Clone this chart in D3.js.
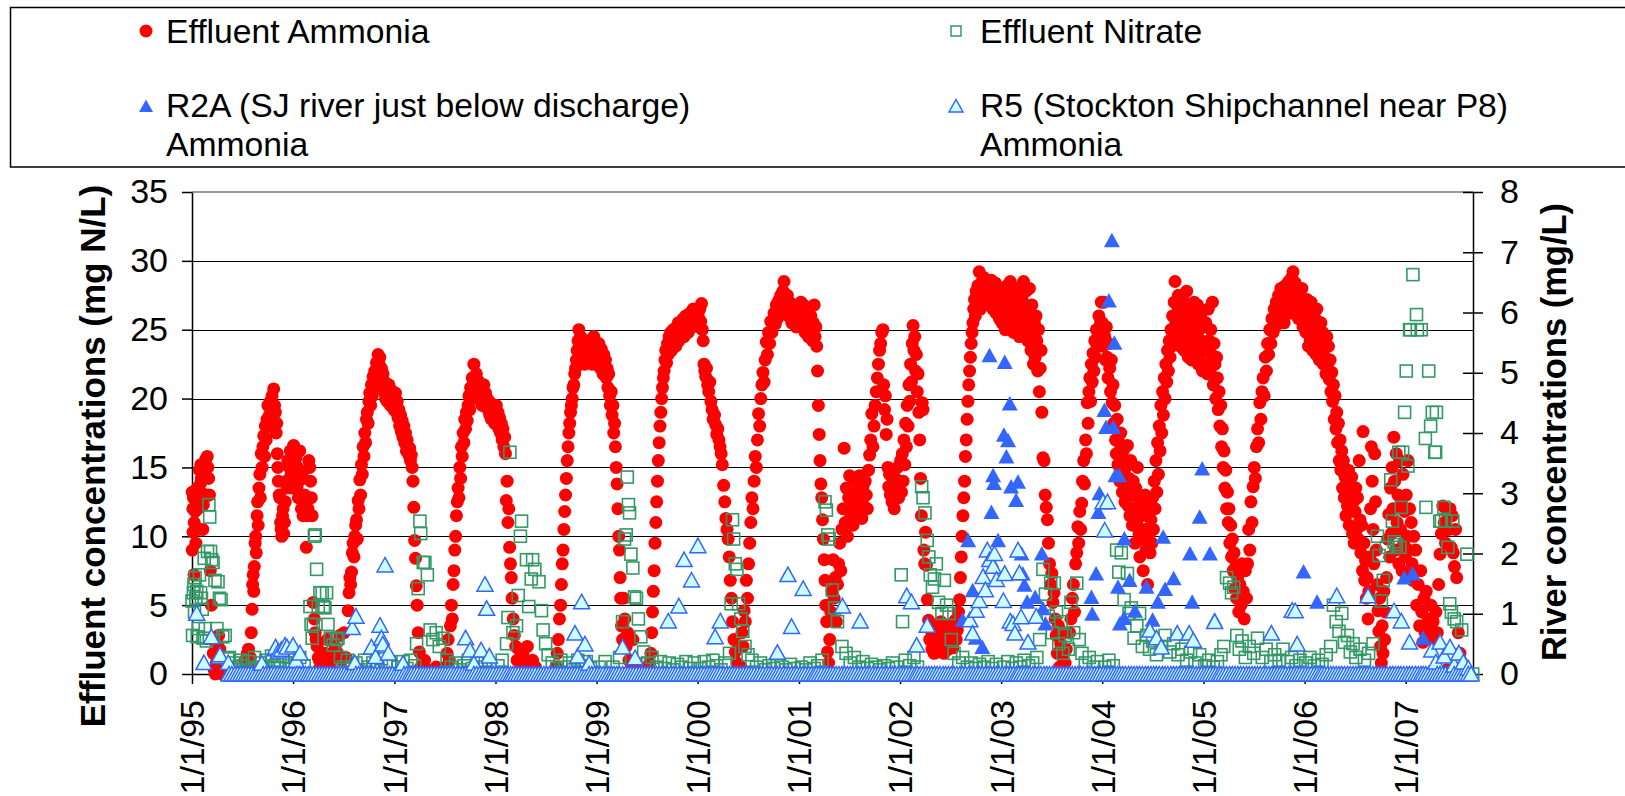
<!DOCTYPE html>
<html>
<head>
<meta charset="utf-8">
<script src="https://cdn.jsdelivr.net/npm/d3@7"></script>
<style>
  body { margin: 0; background: #fff; }
  text { font-family: Arial, "Liberation Sans", sans-serif; }
</style>
</head>
<body>
<svg id="chart" width="1625" height="796"></svg>
<script>
// Readings, one row per year: "year: MMDD value, MMDD value, ..."
const effluentAmmonia = [
  "1995: 0102 9.0, 0102 13.2, 0104 12.0, 0105 10.3, 0106 12.8, 0108 7.2, 0109 11.0, 0111 13.0, 0113 11.8, 0115 9.5, 0117 12.5, 0120 13.5, 0122 12.0, 0124 10.5, 0126 13.2, 0128 14.8, 0131 13.8, 0202 15.2, 0204 14.2, 0207 13.1, 0209 10.5, 0211 12.3, 0214 15.0, 0217 14.5, 0220 15.6, 0222 13.0, 0225 15.8, 0227 15.0, 0302 14.2, 0305 13.0, 0308 7.5, 0312 5.0, 0316 2.5, 0319 1.5, 0322 0.3, 0326 0.0, 0330 0.8, 0403 2.2, 0407 2.8, 0411 1.8, 0415 1.0, 0419 0.0, 0424 0.3, 0430 0.0, 0506 0.5, 0712 1.0, 0716 0.5, 0720 1.5, 0724 1.8, 0728 0.6, 0731 1.2, 0803 3.0, 0806 4.7, 0808 6.5, 0810 7.2, 0812 6.0, 0814 7.8, 0817 9.5, 0819 10.0, 0821 8.8, 0824 11.5, 0826 12.5, 0828 10.8, 0831 13.5, 0903 14.5, 0905 12.8, 0908 16.0, 0911 15.0, 0914 16.5, 0917 17.3, 0920 15.8, 0923 18.0, 0926 17.0, 0929 18.5, 1002 19.5, 1005 18.0, 1008 18.8, 1011 19.8, 1014 19.0, 1017 20.2, 1020 18.5, 1023 20.7, 1026 19.5, 1029 19.0, 1101 17.5, 1103 18.2, 1105 16.0, 1107 15.0, 1109 14.0, 1112 13.0, 1114 12.8, 1117 11.0, 1119 10.5, 1121 10.0, 1124 11.5, 1126 12.0, 1128 10.2, 1201 11.0, 1204 12.5, 1207 14.0, 1210 13.5, 1213 15.5, 1216 14.0, 1219 15.0, 1222 16.2, 1225 14.5, 1228 15.8, 1231 13.5",
  "1996: 0103 16.6, 0105 15.0, 0107 16.0, 0110 14.2, 0112 15.7, 0115 13.5, 0117 15.0, 0120 12.8, 0122 14.0, 0125 16.2, 0128 13.0, 0131 12.0, 0203 14.5, 0206 11.5, 0209 12.8, 0212 13.0, 0215 11.8, 0218 9.2, 0221 11.5, 0224 12.0, 0227 15.5, 0301 15.0, 0304 14.0, 0307 12.8, 0310 11.5, 0314 5.2, 0318 4.0, 0321 3.0, 0324 2.5, 0328 2.0, 0401 1.2, 0405 1.0, 0409 0.5, 0414 0.2, 0420 0.0, 0427 1.5, 0504 2.5, 0511 0.5, 0520 1.0, 0601 2.0, 0610 1.5, 0618 2.8, 0625 1.0, 0703 3.0, 0710 1.2, 0718 4.6, 0721 5.9, 0724 7.0, 0727 6.5, 0730 7.4, 0802 8.8, 0805 9.5, 0808 8.5, 0811 10.0, 0814 10.8, 0817 11.2, 0820 9.8, 0823 12.6, 0826 12.0, 0829 14.1, 0901 13.0, 0904 15.2, 0907 14.5, 0910 16.5, 0913 15.8, 0916 17.5, 0919 16.8, 0922 18.5, 0925 19.0, 0928 18.2, 1001 19.8, 1004 20.4, 1007 19.5, 1010 21.0, 1013 20.2, 1016 21.6, 1019 20.8, 1022 22.0, 1025 21.2, 1028 22.6, 1031 21.8, 1103 23.2, 1106 22.5, 1109 23.0, 1112 21.5, 1115 22.2, 1118 21.0, 1121 21.8, 1124 20.5, 1127 21.2, 1130 20.0, 1203 20.8, 1206 19.8, 1209 20.5, 1212 21.0, 1215 20.2, 1218 19.5, 1221 20.6, 1224 19.8, 1227 20.4, 1230 19.2",
  "1997: 0102 19.5, 0105 20.4, 0108 19.0, 0111 19.8, 0114 18.6, 0117 19.2, 0120 18.0, 0123 18.8, 0126 17.6, 0129 18.4, 0201 17.2, 0204 18.0, 0207 16.8, 0210 17.5, 0213 16.2, 0216 17.0, 0219 16.5, 0222 15.9, 0225 16.4, 0228 15.5, 0303 15.9, 0306 15.0, 0309 14.0, 0312 12.1, 0315 9.7, 0318 8.4, 0321 6.4, 0324 5.0, 0328 3.0, 0401 1.6, 0406 0.5, 0412 0.0, 0420 1.0, 0428 0.3, 0510 0.0, 0601 0.5, 0705 0.5, 0710 1.5, 0714 2.5, 0718 1.0, 0722 3.5, 0726 5.0, 0729 4.0, 0801 6.5, 0804 7.5, 0807 9.0, 0810 10.0, 0813 11.5, 0816 12.5, 0819 13.5, 0822 12.8, 0825 15.0, 0828 14.2, 0831 16.5, 0903 15.8, 0906 17.5, 0909 16.8, 0912 18.5, 0915 17.8, 0918 19.0, 0921 18.4, 0924 19.5, 0927 20.2, 0930 19.2, 1003 20.8, 1006 20.0, 1009 21.5, 1012 20.6, 1015 22.5, 1018 21.2, 1021 20.8, 1024 21.8, 1027 20.5, 1030 21.3, 1102 20.2, 1105 21.0, 1108 19.8, 1111 20.6, 1114 19.5, 1117 20.2, 1120 21.0, 1123 19.8, 1126 20.4, 1129 19.5, 1202 20.0, 1205 19.2, 1208 19.8, 1211 18.8, 1214 19.5, 1217 18.5, 1220 19.6, 1223 18.8, 1226 19.4, 1229 18.2",
  "1998: 0101 18.8, 0104 19.5, 0107 18.2, 0110 19.0, 0113 17.8, 0116 18.6, 0119 17.5, 0122 18.2, 0125 17.0, 0128 17.8, 0131 16.5, 0203 17.2, 0206 16.0, 0209 12.6, 0212 14.0, 0215 11.0, 0218 12.0, 0221 9.2, 0224 8.0, 0227 7.0, 0302 5.5, 0306 4.0, 0310 2.8, 0315 2.0, 0320 1.0, 0326 1.8, 0402 0.5, 0410 1.5, 0418 0.8, 0426 2.0, 0505 0.3, 0515 1.0, 0525 0.5, 0808 0.5, 0812 1.5, 0816 2.5, 0820 4.0, 0824 5.0, 0827 6.5, 0830 8.0, 0902 9.0, 0905 10.5, 0908 11.8, 0911 13.0, 0914 14.2, 0917 15.5, 0920 16.5, 0923 17.5, 0926 18.2, 0929 19.0, 1002 19.5, 1005 20.0, 1008 20.8, 1011 21.0, 1014 21.8, 1017 22.2, 1020 22.8, 1023 23.5, 1026 24.2, 1029 25.0, 1101 23.8, 1104 24.5, 1107 23.2, 1110 24.0, 1113 22.8, 1116 23.6, 1119 22.5, 1122 23.8, 1125 23.0, 1128 24.2, 1201 22.6, 1204 23.5, 1207 22.8, 1210 24.0, 1213 23.2, 1216 22.5, 1219 23.8, 1222 24.5, 1225 23.0, 1228 23.8, 1231 22.8",
  "1999: 0103 23.5, 0106 22.5, 0109 24.0, 0112 23.0, 0115 22.2, 0118 23.6, 0121 22.8, 0124 21.8, 0127 23.2, 0130 22.0, 0202 22.8, 0205 21.5, 0208 22.2, 0211 20.8, 0214 21.8, 0217 20.2, 0220 19.5, 0223 20.5, 0226 18.8, 0301 19.5, 0304 17.5, 0307 18.2, 0310 16.5, 0313 15.0, 0316 13.8, 0319 12.0, 0322 10.0, 0325 9.0, 0327 7.0, 0329 5.5, 0401 3.5, 0405 2.5, 0409 5.5, 0413 4.0, 0418 2.0, 0423 3.0, 0428 1.0, 0505 0.8, 0512 2.5, 0520 0.3, 0601 0.5, 0712 0.8, 0716 1.5, 0719 3.0, 0722 4.5, 0725 6.0, 0728 7.5, 0731 9.5, 0803 11.0, 0806 12.5, 0809 14.0, 0812 15.5, 0815 16.8, 0818 18.0, 0821 19.0, 0824 20.0, 0827 20.8, 0830 21.5, 0902 22.0, 0905 22.8, 0908 23.5, 0911 22.6, 0914 24.0, 0917 23.2, 0920 24.5, 0923 23.8, 0926 24.8, 0929 23.5, 1002 24.2, 1005 25.0, 1008 24.0, 1011 24.8, 1014 23.8, 1017 25.2, 1020 24.5, 1023 25.5, 1026 24.2, 1029 25.0, 1101 24.6, 1104 25.5, 1107 24.8, 1110 25.8, 1113 24.5, 1116 25.3, 1119 26.0, 1122 25.0, 1125 25.6, 1128 24.8, 1201 25.8, 1204 26.2, 1207 25.4, 1210 26.0, 1213 25.2, 1216 26.5, 1219 25.6, 1222 26.2, 1225 25.5, 1228 26.4, 1231 25.8",
  "2000: 0103 26.0, 0106 25.2, 0109 26.5, 0112 25.6, 0115 26.9, 0118 25.0, 0121 24.2, 0124 22.5, 0127 22.0, 0130 21.6, 0202 22.2, 0206 21.0, 0210 20.5, 0214 21.2, 0218 19.8, 0222 19.2, 0226 18.5, 0302 18.8, 0306 18.1, 0310 17.4, 0314 17.8, 0318 17.0, 0322 16.5, 0326 16.0, 0330 15.2, 0404 13.7, 0408 12.5, 0412 11.3, 0416 10.5, 0420 9.8, 0424 8.5, 0428 6.8, 0502 5.5, 0506 3.8, 0511 2.5, 0516 1.6, 0522 0.8, 0528 0.3, 0605 0.5, 0609 3.0, 0613 2.0, 0617 4.6, 0621 3.8, 0625 6.8, 0629 5.5, 0703 8.0, 0707 9.5, 0711 11.0, 0715 12.8, 0719 12.0, 0723 14.0, 0727 15.8, 0731 15.0, 0804 17.0, 0808 18.9, 0812 18.0, 0816 20.0, 0820 21.0, 0824 21.9, 0828 21.2, 0901 22.8, 0905 24.1, 0909 23.2, 0913 24.8, 0917 24.0, 0921 25.6, 0925 24.8, 0929 25.5, 1003 26.2, 1007 25.4, 1011 26.8, 1015 25.8, 1019 27.1, 1023 26.2, 1027 27.5, 1031 26.5, 1104 27.8, 1108 28.5, 1112 27.2, 1116 26.5, 1120 27.5, 1124 26.0, 1128 27.0, 1202 26.2, 1206 25.5, 1210 26.8, 1214 25.8, 1218 26.5, 1222 25.2, 1226 26.0, 1230 25.5",
  "2001: 0102 26.5, 0105 25.5, 0108 27.0, 0111 26.0, 0114 25.2, 0117 26.8, 0120 25.8, 0123 24.8, 0126 26.2, 0129 25.0, 0201 26.5, 0204 24.5, 0207 25.8, 0210 24.8, 0213 26.0, 0216 25.2, 0219 24.2, 0222 25.5, 0225 26.8, 0228 24.5, 0303 25.2, 0306 23.8, 0309 22.0, 0312 19.5, 0315 17.4, 0318 15.5, 0321 13.8, 0324 12.8, 0327 11.2, 0330 9.8, 0402 8.3, 0405 6.8, 0408 5.0, 0411 3.8, 0414 1.6, 0418 0.8, 0422 2.5, 0426 4.5, 0430 6.0, 0504 8.3, 0508 5.5, 0512 7.0, 0516 3.8, 0520 6.5, 0524 8.0, 0528 9.5, 0601 7.5, 0605 10.5, 0609 12.0, 0613 16.4, 0617 11.0, 0621 13.5, 0625 10.0, 0629 12.8, 0703 14.4, 0707 11.5, 0711 13.0, 0715 10.8, 0719 12.2, 0723 14.0, 0727 11.8, 0731 13.2, 0804 12.0, 0808 14.4, 0812 12.5, 0816 11.3, 0820 13.6, 0824 12.2, 0828 14.0, 0901 13.0, 0905 12.0, 0909 14.8, 0913 15.9, 0917 17.0, 0921 18.9, 0925 16.5, 0929 18.0, 1003 19.5, 1007 20.5, 1011 21.5, 1015 22.5, 1019 23.5, 1023 24.0, 1027 24.8, 1031 25.0, 1103 21.0, 1106 19.2, 1109 20.2, 1112 17.4, 1115 18.5, 1118 15.0, 1121 13.6, 1124 14.5, 1127 13.0, 1130 14.4, 1203 12.5, 1207 13.8, 1211 12.0, 1215 14.2, 1219 13.2, 1223 15.0, 1227 12.8, 1231 14.0",
  "2002: 0103 15.5, 0106 13.2, 0109 16.0, 0112 14.0, 0115 17.0, 0118 15.2, 0121 18.2, 0124 16.5, 0127 19.5, 0130 18.0, 0202 21.0, 0205 19.8, 0208 22.5, 0211 21.2, 0214 24.0, 0217 25.3, 0220 23.5, 0223 24.5, 0226 22.0, 0301 23.2, 0304 20.5, 0307 21.8, 0310 19.0, 0313 17.0, 0316 14.2, 0319 11.5, 0322 19.7, 0325 19.2, 0328 9.0, 0331 8.0, 0403 10.3, 0406 7.9, 0410 5.4, 0414 3.9, 0418 2.5, 0422 3.2, 0426 1.8, 0430 2.8, 0504 1.5, 0508 3.5, 0512 2.2, 0516 3.0, 0520 1.6, 0524 2.6, 0528 3.8, 0601 2.0, 0605 3.2, 0609 1.5, 0613 2.8, 0617 3.5, 0621 2.2, 0625 1.8, 0629 3.0, 0703 2.4, 0707 3.6, 0711 1.9, 0715 2.8, 0719 3.9, 0723 2.5, 0727 3.2, 0731 4.5, 0804 5.4, 0807 7.0, 0810 8.5, 0813 10.0, 0816 11.5, 0819 12.8, 0822 14.0, 0825 15.8, 0828 17.0, 0831 18.5, 0903 19.8, 0906 21.0, 0909 22.0, 0912 23.0, 0915 24.0, 0918 24.8, 0921 25.5, 0924 26.5, 0927 27.2, 0930 26.0, 1003 27.8, 1006 26.8, 1009 28.2, 1012 27.0, 1014 29.2, 1018 26.5, 1021 27.5, 1024 28.5, 1027 27.0, 1030 28.8, 1102 27.5, 1105 28.6, 1108 28.0, 1111 27.2, 1114 28.5, 1117 26.8, 1120 28.0, 1123 27.0, 1126 28.6, 1129 27.4, 1202 26.5, 1205 28.2, 1208 27.0, 1211 28.4, 1214 26.2, 1217 27.6, 1220 26.8, 1223 28.0, 1226 25.8, 1229 27.2",
  "2003: 0101 27.0, 0104 25.5, 0107 28.0, 0110 26.2, 0113 27.5, 0116 25.0, 0119 26.8, 0122 28.2, 0125 25.8, 0128 27.2, 0131 26.0, 0203 28.5, 0206 25.5, 0209 27.0, 0212 26.2, 0215 24.8, 0218 27.8, 0221 26.5, 0224 25.2, 0227 27.5, 0302 26.0, 0305 28.0, 0308 24.5, 0311 26.8, 0314 25.5, 0317 27.2, 0320 26.0, 0323 28.5, 0326 25.0, 0329 26.5, 0401 27.8, 0404 25.8, 0407 24.2, 0410 26.5, 0413 28.0, 0416 25.2, 0419 23.5, 0422 26.8, 0425 24.8, 0428 22.5, 0501 25.5, 0504 23.0, 0507 26.0, 0510 24.2, 0513 22.0, 0516 25.0, 0519 20.5, 0522 22.2, 0525 23.5, 0528 19.0, 0601 15.7, 0605 15.5, 0609 13.0, 0613 12.1, 0617 11.2, 0621 9.5, 0625 8.0, 0629 6.5, 0703 7.3, 0707 5.2, 0711 5.9, 0715 4.0, 0719 2.8, 0723 1.5, 0727 3.5, 0731 0.5, 0804 2.2, 0808 0.0, 0812 1.2, 0816 3.0, 0820 0.8, 0824 1.8, 0905 3.0, 0910 4.0, 0915 5.5, 0919 6.5, 0923 4.5, 0927 8.0, 1001 8.8, 1005 10.7, 1008 9.5, 1012 11.8, 1015 10.5, 1019 12.4, 1022 14.0, 1026 15.5, 1029 13.8, 1102 17.0, 1105 16.0, 1108 19.7, 1111 18.2, 1114 20.5, 1117 21.5, 1120 19.8, 1123 22.5, 1126 21.2, 1129 23.3, 1202 22.0, 1205 24.2, 1208 23.0, 1211 25.0, 1214 23.8, 1217 24.5, 1220 26.0, 1223 24.8, 1226 25.5, 1229 27.0",
  "2004: 0101 25.5, 0104 23.8, 0107 27.0, 0110 24.5, 0113 22.8, 0116 25.2, 0119 23.0, 0122 21.5, 0125 24.0, 0128 22.2, 0131 20.5, 0203 22.8, 0206 19.7, 0209 21.0, 0212 18.2, 0215 19.5, 0218 17.0, 0221 16.0, 0224 18.5, 0227 15.2, 0302 16.8, 0305 14.0, 0308 17.5, 0311 15.5, 0314 13.2, 0317 16.2, 0320 14.5, 0323 12.5, 0326 15.0, 0329 13.8, 0401 16.6, 0404 12.2, 0407 14.2, 0410 11.5, 0413 15.5, 0416 13.0, 0419 10.8, 0422 14.0, 0425 12.0, 0428 9.5, 0501 13.5, 0504 11.0, 0507 15.0, 0510 12.8, 0513 10.2, 0516 8.5, 0519 12.0, 0522 9.8, 0525 11.5, 0528 7.5, 0601 10.5, 0604 13.0, 0607 9.0, 0610 11.8, 0613 6.5, 0616 10.0, 0619 12.5, 0622 8.8, 0625 11.2, 0628 9.5, 0701 12.8, 0704 10.5, 0707 14.0, 0710 12.0, 0713 15.5, 0716 13.2, 0719 16.8, 0722 14.5, 0725 18.0, 0728 16.2, 0731 19.5, 0803 17.5, 0806 20.5, 0809 18.8, 0812 21.5, 0815 20.0, 0818 22.5, 0821 21.2, 0824 23.5, 0827 22.0, 0830 24.2, 0902 23.0, 0905 25.0, 0908 23.8, 0911 26.0, 0914 24.5, 0917 27.0, 0920 28.5, 0923 25.5, 0926 26.8, 0929 24.2, 1002 27.5, 1005 25.0, 1008 23.8, 1011 26.5, 1014 24.8, 1017 27.2, 1020 25.5, 1023 23.5, 1026 26.0, 1029 24.5, 1101 27.8, 1104 25.2, 1107 23.0, 1110 26.5, 1113 24.0, 1116 25.8, 1119 22.8, 1122 26.2, 1125 24.5, 1128 27.0, 1201 23.5, 1204 25.5, 1207 24.0, 1210 26.8, 1213 22.5, 1216 25.0, 1219 23.2, 1222 26.0, 1225 24.2, 1228 22.0, 1231 25.2",
  "2005: 0103 24.0, 0106 22.5, 0109 25.5, 0112 23.5, 0115 21.8, 0118 26.5, 0121 24.2, 0124 22.0, 0127 25.0, 0130 23.2, 0202 27.0, 0205 21.0, 0208 24.0, 0211 22.5, 0214 20.0, 0217 23.0, 0220 21.5, 0223 19.2, 0226 20.5, 0301 18.0, 0304 19.5, 0307 16.5, 0310 17.8, 0313 15.0, 0316 16.2, 0319 13.5, 0322 14.8, 0325 12.0, 0328 13.2, 0331 11.0, 0403 12.0, 0406 9.5, 0409 10.8, 0412 8.5, 0415 9.8, 0418 7.5, 0421 8.8, 0424 6.2, 0427 7.8, 0430 5.5, 0504 7.0, 0508 4.5, 0512 6.5, 0516 5.0, 0520 8.0, 0524 6.0, 0528 4.0, 0601 7.5, 0605 5.5, 0609 8.0, 0613 10.5, 0617 9.0, 0621 12.5, 0625 11.0, 0629 13.6, 0703 15.0, 0707 14.2, 0711 16.5, 0715 17.8, 0719 16.8, 0723 19.7, 0727 18.5, 0731 20.5, 0804 21.5, 0808 20.2, 0812 23.0, 0816 22.0, 0820 24.0, 0824 23.2, 0828 25.0, 0901 24.0, 0905 25.8, 0909 24.8, 0913 26.5, 0917 25.2, 0921 27.0, 0925 25.8, 0929 27.5, 1003 26.2, 1007 28.0, 1011 26.5, 1015 27.8, 1019 25.5, 1023 28.2, 1027 26.8, 1031 27.5, 1104 28.5, 1108 26.2, 1112 27.8, 1116 28.8, 1120 29.2, 1124 27.0, 1128 28.4, 1202 26.5, 1206 27.8, 1210 25.8, 1214 27.2, 1218 26.0, 1222 28.0, 1226 25.2, 1230 26.8",
  "2006: 0103 26.5, 0106 24.8, 0109 27.2, 0112 25.5, 0115 23.8, 0118 26.0, 0121 24.2, 0124 27.0, 0127 25.0, 0130 23.5, 0202 26.2, 0205 24.5, 0208 25.8, 0211 23.2, 0214 26.5, 0217 24.0, 0220 25.2, 0223 22.8, 0226 24.6, 0301 25.5, 0304 23.5, 0307 24.8, 0310 22.5, 0313 24.2, 0316 23.0, 0319 21.8, 0322 24.5, 0325 22.5, 0328 23.8, 0331 21.4, 0403 22.8, 0406 20.5, 0409 21.9, 0412 19.8, 0415 21.0, 0418 18.5, 0421 20.2, 0424 17.8, 0427 19.0, 0430 16.8, 0503 18.2, 0506 15.5, 0509 17.0, 0512 14.8, 0515 16.2, 0518 13.5, 0521 15.5, 0524 12.8, 0527 14.3, 0530 11.5, 0602 13.8, 0605 12.2, 0608 14.8, 0611 10.8, 0614 13.0, 0617 11.8, 0620 14.3, 0623 10.2, 0626 12.5, 0629 9.5, 0702 11.8, 0705 13.5, 0708 10.5, 0711 12.8, 0714 9.8, 0717 15.5, 0720 11.2, 0723 8.8, 0726 10.8, 0729 7.5, 0731 17.6, 0803 9.5, 0806 6.8, 0809 8.2, 0812 5.5, 0815 7.0, 0818 4.0, 0821 6.0, 0824 8.5, 0827 12.0, 0830 16.5, 0902 14.0, 0905 10.5, 0908 8.0, 0911 16.0, 0914 12.5, 0917 9.0, 0920 6.5, 0923 4.6, 0926 3.1, 0929 5.5, 1002 2.0, 1005 0.8, 1008 3.5, 1011 1.5, 1014 6.0, 1017 2.5, 1020 4.5, 1024 7.0, 1028 9.8, 1101 11.6, 1104 8.5, 1107 13.5, 1110 10.2, 1113 15.0, 1116 12.0, 1119 17.2, 1122 14.0, 1125 9.0, 1128 16.0, 1201 11.0, 1204 13.0, 1207 8.0, 1210 15.5, 1213 10.5, 1216 12.5, 1219 7.5, 1222 14.5, 1225 9.5, 1228 11.8, 1231 8.5",
  "2007: 0103 13.0, 0106 10.0, 0109 15.5, 0112 9.0, 0115 12.0, 0118 7.0, 0121 11.0, 0124 8.0, 0127 6.8, 0130 10.0, 0202 7.5, 0206 9.0, 0210 5.0, 0215 6.5, 0220 3.5, 0224 7.5, 0228 4.5, 0304 2.3, 0308 5.5, 0312 3.0, 0316 6.0, 0320 2.8, 0324 4.0, 0328 3.2, 0402 5.0, 0406 2.5, 0410 3.8, 0415 2.3, 0420 4.5, 0425 3.0, 0430 6.5, 0505 8.7, 0510 10.2, 0515 12.2, 0520 11.0, 0525 9.5, 0529 0.3, 0602 11.7, 0606 10.5, 0610 12.0, 0614 9.2, 0618 11.5, 0622 8.8, 0626 7.8, 0630 10.5, 0704 7.0, 0710 3.0, 0716 1.5, 0722 0.5, 0728 0.0, 0803 0.3"
];

const effluentNitrate = [
  "1995: 0101 5.3, 0103 2.8, 0106 5.9, 0108 6.5, 0110 4.5, 0112 7.0, 0115 5.5, 0118 6.0, 0120 2.7, 0124 3.3, 0128 7.2, 0201 5.9, 0204 5.5, 0207 4.7, 0210 2.6, 0214 8.4, 0218 3.3, 0222 2.4, 0226 8.9, 0303 12.3, 0306 11.4, 0309 8.9, 0313 8.3, 0318 8.1, 0325 6.8, 0401 3.3, 0405 6.7, 0410 5.5, 0416 5.4, 0422 2.7, 0501 2.8, 0510 1.1, 0516 1.2, 0525 0.5, 0605 0.8, 0615 0.3, 0625 1.0, 0705 0.6, 0715 0.2, 0725 0.9, 0805 0.4, 0815 1.2, 0825 0.5, 0905 0.8, 0915 0.3, 0925 1.0, 1005 0.5, 1015 1.3, 1025 0.6, 1105 1.0, 1115 0.4, 1125 1.3, 1205 0.8, 1215 1.2, 1225 0.6",
  "1996: 0110 0.8, 0125 1.2, 0210 0.6, 0302 4.9, 0306 3.6, 0310 2.6, 0314 3.6, 0318 10.0, 0321 10.1, 0326 7.6, 0401 4.9, 0407 5.9, 0415 5.9, 0420 4.9, 0425 4.8, 0501 5.9, 0506 3.6, 0515 2.6, 0525 2.1, 0605 2.5, 0611 2.6, 0620 1.2, 0701 0.5, 0715 1.0, 0801 0.4, 0815 0.8, 0901 0.3, 0915 1.0, 1001 0.5, 1015 0.8, 1101 0.4, 1115 1.1, 1201 0.6, 1215 0.9",
  "1997: 0115 0.5, 0201 0.9, 0215 0.4, 0301 1.0, 0315 0.6, 0322 2.2, 0328 6.2, 0403 11.1, 0406 10.2, 0415 8.1, 0421 8.1, 0430 7.2, 0510 3.2, 0520 2.5, 0601 3.0, 0612 2.0, 0625 2.6, 0710 1.0, 0725 0.5, 0810 0.8, 0825 0.3, 0910 0.6, 0925 1.0, 1010 0.4, 1025 0.8, 1110 0.5, 1125 1.0, 1210 0.6",
  "1998: 0110 0.6, 0125 1.0, 0210 2.2, 0215 4.1, 0222 16.1, 0305 3.0, 0318 3.5, 0324 5.7, 0401 10.0, 0405 11.1, 0423 8.3, 0501 4.9, 0510 6.9, 0515 8.3, 0523 7.6, 0607 6.7, 0616 4.6, 0622 3.2, 0701 2.2, 0710 1.4, 0725 0.8, 0810 0.4, 0825 1.0, 0910 0.5, 0925 0.8, 1010 0.3, 1025 1.0, 1110 0.6, 1125 0.9, 1210 0.4",
  "1999: 0110 0.5, 0201 0.9, 0301 0.5, 0325 1.2, 0405 3.8, 0412 9.8, 0418 10.1, 0422 14.3, 0426 12.3, 0430 11.7, 0505 8.7, 0512 7.7, 0518 5.6, 0525 5.5, 0601 4.0, 0610 2.7, 0620 1.6, 0705 0.8, 0720 1.2, 0805 0.5, 0820 0.9, 0905 0.4, 0920 0.8, 1005 0.3, 1020 0.7, 1105 0.5, 1120 0.9, 1205 0.4, 1220 0.8",
  "2000: 0110 0.4, 0125 0.9, 0210 0.5, 0225 1.0, 0310 0.6, 0325 0.3, 0410 0.8, 0425 1.5, 0501 5.1, 0506 11.2, 0510 9.8, 0516 8.0, 0522 7.6, 0528 5.1, 0605 4.0, 0612 3.1, 0620 2.0, 0701 1.4, 0715 1.0, 0801 0.5, 0815 0.8, 0901 0.3, 0915 0.6, 1001 0.4, 1015 0.8, 1101 0.5, 1115 0.3, 1201 0.7, 1215 0.4",
  "2001: 0110 0.5, 0125 0.3, 0210 0.8, 0225 0.4, 0310 0.6, 0325 1.0, 0405 12.5, 0410 11.9, 0415 10.1, 0420 9.8, 0501 6.1, 0510 4.8, 0520 3.8, 0605 2.0, 0620 1.5, 0705 0.8, 0720 1.2, 0805 0.5, 0820 0.9, 0905 0.4, 0920 0.7, 1005 0.5, 1020 0.3, 1105 0.6, 1120 0.4, 1205 0.8, 1220 0.5",
  "2002: 0105 7.2, 0110 3.8, 0120 1.0, 0205 0.6, 0220 1.2, 0305 0.5, 0320 13.6, 0325 12.8, 0401 11.7, 0409 9.7, 0415 8.5, 0420 7.2, 0428 6.3, 0505 6.9, 0512 8.0, 0520 5.2, 0601 4.4, 0610 6.8, 0618 5.0, 0627 4.4, 0705 2.5, 0715 1.5, 0801 0.8, 0815 1.2, 0901 0.5, 0915 0.8, 1001 0.4, 1015 0.7, 1101 0.5, 1115 0.9, 1201 0.4, 1215 0.7",
  "2003: 0110 0.5, 0125 0.9, 0210 0.4, 0225 0.8, 0310 0.5, 0325 1.0, 0410 0.6, 0425 0.8, 0510 1.2, 0520 2.5, 0601 7.6, 0610 5.8, 0620 4.2, 0629 6.6, 0705 3.0, 0712 6.6, 0720 4.5, 0728 2.2, 0805 3.8, 0812 1.5, 0820 2.8, 0901 1.8, 0910 5.2, 0920 3.0, 1001 6.6, 1010 2.5, 1020 1.5, 1101 0.8, 1115 1.2, 1201 0.5, 1215 0.9",
  "2004: 0110 0.5, 0125 1.0, 0210 0.6, 0222 9.0, 0301 7.4, 0310 8.8, 0320 5.4, 0401 7.3, 0407 4.4, 0415 4.8, 0425 2.6, 0505 3.5, 0515 4.4, 0525 2.0, 0610 2.8, 0620 1.8, 0701 2.4, 0715 1.4, 0801 2.0, 0815 2.8, 0901 1.6, 0915 2.2, 1001 1.4, 1015 1.8, 1101 1.0, 1115 1.6, 1201 0.8, 1218 1.4",
  "2005: 0105 0.6, 0120 1.0, 0205 0.5, 0220 0.9, 0305 1.4, 0315 2.0, 0325 7.0, 0405 6.6, 0412 5.9, 0420 6.3, 0501 2.8, 0510 1.8, 0520 2.4, 0601 1.2, 0615 2.0, 0701 1.5, 0715 2.6, 0801 1.2, 0815 1.8, 0901 0.9, 0915 1.4, 1001 1.0, 1015 1.8, 1101 0.9, 1115 1.2, 1201 0.6, 1215 1.0",
  "2006: 0105 0.8, 0120 1.2, 0205 0.6, 0220 1.0, 0305 0.7, 0320 1.4, 0405 2.0, 0415 5.0, 0425 3.8, 0505 3.1, 0515 4.4, 0525 2.3, 0605 2.8, 0615 1.6, 0625 2.2, 0705 1.2, 0720 1.8, 0805 1.0, 0820 1.5, 0905 2.2, 0921 10.0, 0927 8.6, 1005 5.3, 1012 6.8, 1023 9.2, 1108 14.1, 1114 11.1, 1120 9.6, 1128 9.4, 1207 16.1, 1211 9.2, 1216 12.1, 1221 16.1, 1228 19.0",
  "2007: 0103 22.0, 0109 15.1, 0115 25.0, 0118 25.0, 0127 29.0, 0209 26.1, 0212 25.0, 0226 25.0, 0313 17.1, 0315 12.1, 0325 22.0, 0401 18.0, 0407 19.0, 0416 16.1, 0419 16.1, 0422 19.0, 0504 11.1, 0510 11.1, 0519 12.1, 0525 11.1, 0602 9.2, 0609 5.1, 0615 4.5, 0620 11.1, 0625 4.0, 0704 3.8, 0722 3.2, 0810 8.7, 0831 0.0"
];

// River readings above the detection floor (mg/L)
const r2aAmmonia = [
  "2002: 0815 0.9, 0904 2.22, 0920 1.39, 1001 0.6, 1025 0.45, 1120 5.29, 1127 2.69, 1203 3.30, 1206 3.17, 1221 2.22",
  "2003: 0111 3.97, 0114 5.18, 0120 3.61, 0126 3.88, 0201 4.49, 0206 3.11, 0224 2.89, 0303 3.19, 0316 2.0, 0320 1.67, 0326 1.48, 0405 1.2, 0504 1.28, 0528 2.0, 0601 1.09, 0610 0.84, 1123 1.28, 1126 1.0, 1210 1.67, 1218 2.69, 1222 3.0",
  "2004: 0109 4.38, 0115 4.1, 0125 6.2, 0205 7.2, 0210 4.1, 0214 5.5, 0218 3.3, 0227 1.45, 0302 3.3, 0305 0.84, 0320 0.93, 0321 2.25, 0409 1.56, 0428 1.05, 0609 1.45, 0701 0.9, 0720 1.2, 0808 2.28, 0815 1.41, 0915 1.59, 1113 2.0, 1121 1.2, 1218 2.61, 1227 3.41",
  "2005: 0124 2.0, 0210 0.9, 1228 1.7",
  "2006: 0215 1.2, 1227 1.6",
  "2007: 0126 1.67, 0305 0.6"
];
const r5Ammonia = [
  "1995: 0118 1.01, 0213 0.19, 0312 0.62, 0409 0.29, 0412 0.32, 0512 0.19, 0910 0.18, 1028 0.42, 1030 0.45, 1109 0.38, 1120 0.41, 1203 0.48, 1210 0.45",
  "1996: 0101 0.48, 0112 0.23, 0126 0.35, 0802 0.77, 0811 0.19, 0815 0.96, 1010 0.45, 1025 0.29, 1110 0.81, 1115 0.6, 1120 0.5, 1128 1.81, 1210 0.35",
  "1997: 0201 0.18, 0915 0.6, 1001 0.4, 1015 0.18, 1110 0.4, 1124 1.49, 1130 1.09, 1210 0.3",
  "1998: 1015 0.68, 1025 0.3, 1108 1.2, 1120 0.5, 1205 0.18",
  "1999: 0405 0.45, 0520 0.27, 0917 0.88, 1025 1.13, 1113 1.9, 1210 1.56",
  "2000: 0102 2.13, 0304 0.62, 0323 0.88, 1015 0.36, 1122 1.65, 1205 0.79",
  "2001: 0116 1.42, 0607 1.13, 0810 0.88",
  "2002: 0125 1.3, 0211 1.2, 0302 0.48, 0409 0.81, 0910 0.9, 0920 0.68, 1003 1.06, 1014 1.22, 1028 1.62, 1105 1.4, 1112 2.06, 1121 1.9, 1203 1.79, 1208 2.0, 1215 1.57",
  "2003: 0109 1.22, 0114 1.67, 0203 0.88, 0213 0.84, 0220 0.68, 0303 2.06, 0308 1.68, 0314 0.95, 0408 0.53, 0508 0.96",
  "2004: 0104 2.86, 0110 2.39, 0120 2.86, 0621 0.73, 0715 0.6, 0801 0.45, 0928 0.68, 1110 0.68, 1125 0.56",
  "2005: 0210 0.87, 0903 0.68, 1117 1.06, 1128 1.05, 1205 0.5",
  "2006: 0427 1.3, 0818 1.3, 1120 1.05, 1216 0.88",
  "2007: 0115 0.53, 0405 0.4, 0420 0.2, 0505 0.53, 0520 0.3, 0610 0.45, 0625 0.15, 0712 0.35, 0728 0.2, 0815 0.1"
];

// Sampling dates where the river result was 0 mg/L
const r2aZeroDates = [
  "1995: 0510 0524 0610 0624 0710 0724 0810 0824 0910 0924 1010 1024 1110 1124 1210 1224",
  "1996: 0110 0124 0210 0224 0310 0324 0410 0424 0510 0524 0610 0624 0710 0724 0810 0824 0910 0924 1010 1024 1110 1124 1210 1224",
  "1997: 0110 0124 0210 0224 0310 0324 0410 0424 0510 0524 0610 0624 0710 0724 0810 0824 0910 0924 1010 1024 1110 1124 1210 1224",
  "1998: 0110 0124 0210 0224 0310 0324 0410 0424 0510 0524 0610 0624 0710 0724 0810 0824 0910 0924 1010 1024 1110 1124 1210 1224",
  "1999: 0110 0124 0210 0224 0310 0324 0410 0424 0510 0524 0610 0624 0710 0724 0810 0824 0910 0924 1010 1024 1110 1124 1210 1224",
  "2000: 0110 0124 0210 0224 0310 0324 0410 0424 0510 0524 0610 0624 0710 0724 0810 0824 0910 0924 1010 1024 1110 1124 1210 1224",
  "2001: 0110 0124 0210 0224 0310 0324 0410 0424 0510 0524 0610 0624 0710 0724 0810 0824 0910 0924 1010 1024 1110 1124 1210 1224",
  "2002: 0110 0124 0210 0224 0310 0324 0410 0424 0510 0524 0610 0624 0710 0724 0810 0824 0910 0924 1010 1024 1110 1124 1210 1224",
  "2003: 0110 0124 0210 0224 0310 0324 0410 0424 0510 0524 0610 0624 0710 0724 0810 0824 0910 0924 1010 1024 1110 1124 1210 1224",
  "2004: 0110 0124 0210 0224 0310 0324 0410 0424 0510 0524 0610 0624 0710 0724 0810 0824 0910 0924 1010 1024 1110 1124 1210 1224",
  "2005: 0110 0124 0210 0224 0310 0324 0410 0424 0510 0524 0610 0624 0710 0724 0810 0824 0910 0924 1010 1024 1110 1124 1210 1224",
  "2006: 0110 0124 0210 0224 0310 0324 0410 0424 0510 0524 0610 0624 0710 0724 0810 0824 0910 0924 1010 1024 1110 1124 1210 1224",
  "2007: 0110 0124 0210 0224 0310 0324 0410 0424 0510 0524 0610 0624 0710 0724 0810 0824"
];
const r5ZeroDates = [
  "1995: 0515 0525 0605 0615 0625 0705 0715 0725 0805 0815 0825 0905 0915 0925 1005 1015 1025 1105 1115 1125 1205 1215 1225",
  "1996: 0105 0115 0125 0205 0215 0225 0305 0315 0325 0405 0415 0425 0505 0515 0525 0605 0615 0625 0705 0715 0725 0805 0815 0825 0905 0915 0925 1005 1015 1025 1105 1115 1125 1205 1215 1225",
  "1997: 0105 0115 0125 0205 0215 0225 0305 0315 0325 0405 0415 0425 0505 0515 0525 0605 0615 0625 0705 0715 0725 0805 0815 0825 0905 0915 0925 1005 1015 1025 1105 1115 1125 1205 1215 1225",
  "1998: 0105 0115 0125 0205 0215 0225 0305 0315 0325 0405 0415 0425 0505 0515 0525 0605 0615 0625 0705 0715 0725 0805 0815 0825 0905 0915 0925 1005 1015 1025 1105 1115 1125 1205 1215 1225",
  "1999: 0105 0115 0125 0205 0215 0225 0305 0315 0325 0405 0415 0425 0505 0515 0525 0605 0615 0625 0705 0715 0725 0805 0815 0825 0905 0915 0925 1005 1015 1025 1105 1115 1125 1205 1215 1225",
  "2000: 0105 0115 0125 0205 0215 0225 0305 0315 0325 0405 0415 0425 0505 0515 0525 0605 0615 0625 0705 0715 0725 0805 0815 0825 0905 0915 0925 1005 1015 1025 1105 1115 1125 1205 1215 1225",
  "2001: 0105 0115 0125 0205 0215 0225 0305 0315 0325 0405 0415 0425 0505 0515 0525 0605 0615 0625 0705 0715 0725 0805 0815 0825 0905 0915 0925 1005 1015 1025 1105 1115 1125 1205 1215 1225",
  "2002: 0105 0115 0125 0205 0215 0225 0305 0315 0325 0405 0415 0425 0505 0515 0525 0605 0615 0625 0705 0715 0725 0805 0815 0825 0905 0915 0925 1005 1015 1025 1105 1115 1125 1205 1215 1225",
  "2003: 0105 0115 0125 0205 0215 0225 0305 0315 0325 0405 0415 0425 0505 0515 0525 0605 0615 0625 0705 0715 0725 0805 0815 0825 0905 0915 0925 1005 1015 1025 1105 1115 1125 1205 1215 1225",
  "2004: 0105 0115 0125 0205 0215 0225 0305 0315 0325 0405 0415 0425 0505 0515 0525 0605 0615 0625 0705 0715 0725 0805 0815 0825 0905 0915 0925 1005 1015 1025 1105 1115 1125 1205 1215 1225",
  "2005: 0105 0115 0125 0205 0215 0225 0305 0315 0325 0405 0415 0425 0505 0515 0525 0605 0615 0625 0705 0715 0725 0805 0815 0825 0905 0915 0925 1005 1015 1025 1105 1115 1125 1205 1215 1225",
  "2006: 0105 0115 0125 0205 0215 0225 0305 0315 0325 0405 0415 0425 0505 0515 0525 0605 0615 0625 0705 0715 0725 0805 0815 0825 0905 0915 0925 1005 1015 1025 1105 1115 1125 1205 1215 1225",
  "2007: 0105 0115 0125 0205 0215 0225 0305 0315 0325 0405 0415 0425 0505 0515 0525 0605 0615 0625 0705 0715 0725 0805 0815 0825"
];

const yearTicks = ["1995-01-01", "1996-01-01", "1997-01-01", "1998-01-01", "1999-01-01", "2000-01-01",
  "2001-01-01", "2002-01-01", "2003-01-01", "2004-01-01", "2005-01-01", "2006-01-01", "2007-01-01"];
const effluentTicks = [0, 5, 10, 15, 20, 25, 30, 35];
const riverTicks = [0, 1, 2, 3, 4, 5, 6, 7, 8];

const toDate = (yr, md) => new Date(+yr, +md.slice(0, 2) - 1, +md.slice(2, 4));
function readRows(rows) {
  return rows.flatMap(row => {
    const [yr, body] = row.split(":");
    return body.split(",").map(s => s.trim()).filter(Boolean).map(s => {
      const [md, v] = s.split(/\s+/);
      return { date: toDate(yr, md), value: +v };
    });
  });
}
function readZeroRows(rows) {
  return rows.flatMap(row => {
    const [yr, body] = row.split(":");
    return body.trim().split(/\s+/).map(md => ({ date: toDate(yr, md), value: 0 }));
  });
}
const byDate = (a, b) => a.date - b.date;

const parseDay = d3.timeParse("%Y-%m-%d");
const svg = d3.select("#chart");
svg.append("rect").attr("width", 1625).attr("height", 796).attr("fill", "#fff");

const plot = { left: 192, right: 1473, top: 192, bottom: 674 };
const x = d3.scaleTime().domain([parseDay("1995-01-01"), parseDay("2007-09-01")]).range([plot.left, plot.right]);
const yLeft = d3.scaleLinear().domain([0, 35]).range([plot.bottom, plot.top]);
const yRight = d3.scaleLinear().domain([0, 8]).range([plot.bottom, plot.top]);

// legend frame
svg.append("rect").attr("x", 10.5).attr("y", 7.5).attr("width", 1700).attr("height", 159.5)
  .attr("fill", "none").attr("stroke", "#000").attr("stroke-width", 1.5);

// gridlines
svg.append("g").selectAll("line").data(effluentTicks.filter(v => v > 0 && v < 35)).join("line")
  .attr("x1", plot.left).attr("x2", plot.right)
  .attr("y1", d => Math.round(yLeft(d)) + 0.5).attr("y2", d => Math.round(yLeft(d)) + 0.5)
  .attr("stroke", "#000").attr("stroke-width", 1);
svg.append("line").attr("x1", plot.left).attr("x2", plot.right)
  .attr("y1", yLeft(35)).attr("y2", yLeft(35)).attr("stroke", "#999").attr("stroke-width", 2);

const tickFont = size => g => g.selectAll("text").attr("font-size", size).attr("fill", "#000")
  .attr("font-family", "Arial, 'Liberation Sans', sans-serif");

// left axis
svg.append("g").attr("transform", `translate(${plot.left},0)`)
  .call(d3.axisLeft(yLeft).tickValues(effluentTicks).tickSize(10).tickSizeOuter(0).tickPadding(14).tickFormat(d3.format("d")))
  .call(tickFont(34))
  .call(g => g.selectAll("line,path").attr("stroke", "#000").attr("stroke-width", 1.5));

// right axis, ticks cross the line
svg.append("g").attr("transform", `translate(${plot.right},0)`)
  .call(d3.axisRight(yRight).tickValues(riverTicks).tickSize(10).tickSizeOuter(0).tickPadding(17).tickFormat(d3.format("d")))
  .call(tickFont(34))
  .call(g => g.selectAll(".tick").append("line").attr("x1", -10).attr("x2", 0))
  .call(g => g.selectAll("line,path").attr("stroke", "#000").attr("stroke-width", 1.5));

// bottom axis
svg.append("g").attr("transform", `translate(0,${plot.bottom})`)
  .call(d3.axisBottom(x).tickValues(yearTicks.map(parseDay)).tickSize(10).tickSizeOuter(0).tickFormat(d3.timeFormat("%-m/%-d/%y")))
  .call(tickFont(34))
  .call(g => g.selectAll("line,path").attr("stroke", "#000").attr("stroke-width", 1.5))
  .call(g => g.selectAll("text").attr("transform", "rotate(-90)").attr("text-anchor", "end")
    .attr("x", -26).attr("y", 0).attr("dy", "0.35em"));

// axis titles
svg.append("text").attr("transform", "translate(93,456) rotate(-90)").attr("text-anchor", "middle")
  .attr("dy", "0.35em").attr("font-size", 35).attr("font-weight", "bold").text("Effluent concentrations (mg N/L)");
svg.append("text").attr("transform", "translate(1554,432) rotate(-90)").attr("text-anchor", "middle")
  .attr("dy", "0.35em").attr("font-size", 34.5).attr("font-weight", "bold").text("River concentrations (mg/L)");

// markers
const triPath = "M0,-7.5L8,7L-8,7Z";
const ammonia = readRows(effluentAmmonia).sort(byDate);
const nitrate = readRows(effluentNitrate).sort(byDate);
const r2a = readRows(r2aAmmonia).concat(readZeroRows(r2aZeroDates)).sort(byDate);
const r5 = readRows(r5Ammonia).concat(readZeroRows(r5ZeroDates)).sort(byDate);

const marks = svg.append("g");
marks.append("g").selectAll("circle").data(ammonia).join("circle")
  .attr("cx", d => x(d.date)).attr("cy", d => yLeft(d.value)).attr("r", 6.5).attr("fill", "#FF0000");
marks.append("g").selectAll("rect").data(nitrate).join("rect")
  .attr("x", d => x(d.date) - 6).attr("y", d => yLeft(d.value) - 6).attr("width", 12).attr("height", 12)
  .attr("fill", "none").attr("stroke", "#339966").attr("stroke-width", 1.6);
marks.append("g").selectAll("path").data(r2a).join("path")
  .attr("transform", d => `translate(${x(d.date)},${yRight(d.value)})`).attr("d", triPath).attr("fill", "#3366FF");
marks.append("g").selectAll("path").data(r5).join("path")
  .attr("transform", d => `translate(${x(d.date)},${yRight(d.value)})`).attr("d", triPath)
  .attr("fill", "#CCFFFF").attr("stroke", "#3366FF").attr("stroke-width", 1.5);

// legend
const legendTri = "M0,-6.5L7,6L-7,6Z";
const legend = svg.append("g").attr("font-size", 33.7).attr("fill", "#000");
legend.append("circle").attr("cx", 146).attr("cy", 31).attr("r", 6.5).attr("fill", "#FF0000");
legend.append("text").attr("x", 166).attr("y", 43).text("Effluent Ammonia");
legend.append("rect").attr("x", 951).attr("y", 26).attr("width", 10).attr("height", 10)
  .attr("fill", "none").attr("stroke", "#339966").attr("stroke-width", 1.5);
legend.append("text").attr("x", 980).attr("y", 43).text("Effluent Nitrate");
legend.append("path").attr("transform", "translate(146,106)").attr("d", legendTri).attr("fill", "#3366FF");
legend.append("text").attr("x", 166).attr("y", 117).text("R2A (SJ river just below discharge)");
legend.append("text").attr("x", 166).attr("y", 156).text("Ammonia");
legend.append("path").attr("transform", "translate(956,106)").attr("d", legendTri)
  .attr("fill", "#CCFFFF").attr("stroke", "#3366FF").attr("stroke-width", 1.5);
legend.append("text").attr("x", 980).attr("y", 117).text("R5 (Stockton Shipchannel near P8)");
legend.append("text").attr("x", 980).attr("y", 156).text("Ammonia");
</script>
</body>
</html>
